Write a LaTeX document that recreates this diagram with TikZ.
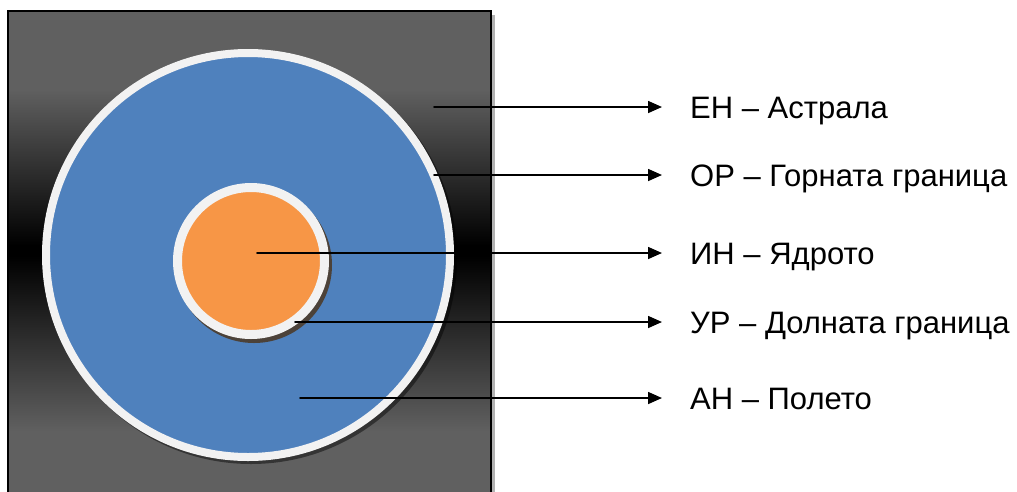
\documentclass[tikz,border=0pt]{standalone}
\usepackage{fontspec}
\setmainfont{Liberation Sans}
\usetikzlibrary{arrows.meta}
\definecolor{bggray}{HTML}{606060}
\definecolor{layerblue}{HTML}{4F81BD}
\definecolor{coreorange}{HTML}{F79646}
\definecolor{ringwhite}{HTML}{F2F2F2}
\pgfdeclareverticalshading{bgfade}{100bp}{color(0bp)=(bggray); color(32bp)=(bggray); color(50bp)=(black); color(51bp)=(black); color(67bp)=(bggray); color(100bp)=(bggray)}
\tikzset{
  ring/.style={draw=ringwhite, line width=8pt},
  layerlabel/.style={anchor=west, inner xsep=28pt, inner ysep=0pt, text height=22pt, text depth=0pt}
}
\begin{document}
\begin{tikzpicture}[x=1pt, y=-1pt, font=\fontsize{31}{36}\selectfont, line cap=round, >={Triangle[length=14pt,width=12pt]}]
  \useasboundingbox (0,0) rectangle (1017,491);
  % background square
  \fill[black!30] (12,15) rectangle (495,500);
  \shade[shading=bgfade, draw=black, line width=2pt] (8,11) rectangle (491,500);
  % circles with shadows
  \fill[black, opacity=.45] (251,258) circle (206);
  \draw[ring, fill=layerblue] (248,255) circle (202);
  \fill[black!60!brown, opacity=.8] (254,265) circle (78);
  \draw[ring, line width=9pt, fill=coreorange] (251,261) circle (73.5);
  % labels
  \foreach \n/\sx/\sy/\txt in {eh/434/107/{ЕН – Астрала}, op/434/175/{ОР – Горната граница}, ih/257/253/{ИН – Ядрото}, yp/295/322/{УР – Долната граница}, ah/300/398/{АН – Полето}}{
    \coordinate (s\n) at (\sx,\sy);
    \node[layerlabel] (l\n) at (662,\sy) {\txt};
    \draw[->, line width=1.6pt] (s\n) -- (l\n.west);
  }
\end{tikzpicture}
\end{document}
